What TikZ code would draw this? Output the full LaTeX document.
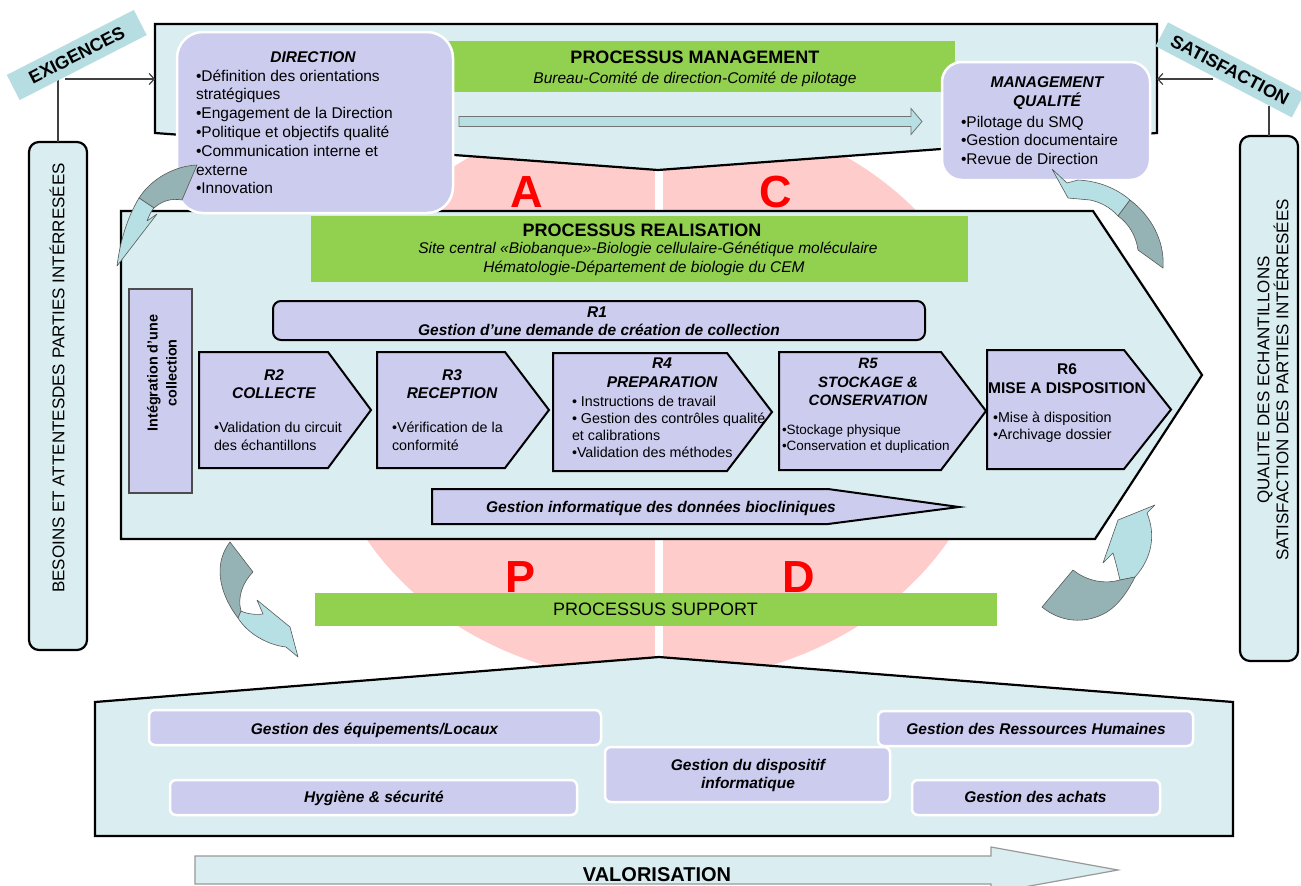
\documentclass[tikz,border=0pt]{standalone}
\usepackage{fontspec}
\setmainfont{Liberation Sans}
\usetikzlibrary{arrows.meta}
\definecolor{lightbox}{RGB}{218,237,240}
\definecolor{lav}{RGB}{204,204,238}
\definecolor{grn}{RGB}{146,208,80}
\definecolor{pinkc}{RGB}{255,204,204}
\definecolor{labc}{RGB}{182,221,226}
\definecolor{arlight}{RGB}{183,224,228}
\definecolor{ardark}{RGB}{149,179,180}
\definecolor{redl}{RGB}{255,0,0}
\newcommand\fz[2]{\fontsize{#1}{#2}\selectfont}
\begin{document}
\begin{tikzpicture}[x=1pt,y=-1pt,
  every node/.style={inner sep=0pt, outer sep=0pt},
  bigbox/.style={fill=lightbox, draw=black, line width=2.2pt, line join=miter},
  gbar/.style={fill=grn, draw=none},
  lavbox/.style={fill=lav, draw=white, line width=2.5pt},
  rstep/.style={fill=lav, draw=black, line width=2pt, line join=miter},
  sidebox/.style={fill=lightbox, draw=black, line width=2.2pt, rounded corners=10pt},
  lab/.style={fill=labc, draw=none, font=\fz{18}{20}\bfseries},
  conn/.style={draw=black!75, line width=1.2pt},
  blist/.style={anchor=north west, align=left},
  ttl/.style={align=center, font=\fz{15.5}{18}\bfseries\itshape},
  bi/.style={anchor=base, font=\fz{15.5}{18}\bfseries\itshape},
  letter/.style={anchor=base, text=redl, font=\fz{45}{50}\bfseries},
  carrow/.style={draw=black!65, line width=0.6pt, line join=round}
]
\useasboundingbox (0,0) rectangle (1301,886);
\fill[white] (0,0) rectangle (1301,886);
\clip (0,0) rectangle (1301,886);

% PDCA background
\fill[pinkc] (658,395) ellipse [x radius=337pt, y radius=287pt];
\draw[white, line width=8pt] (659,120) -- (659,690);

% management box
\draw[bigbox] (155,24) -- (1157,24) -- (1157,133) -- (658,170) -- (155,133) -- cycle;
\node[gbar, minimum width=509pt, minimum height=51pt] (pmbar) at (700.5,66.5) {};
\node[anchor=base, font=\fz{18}{20}\bfseries] (pmt) at (695,63.8) {PROCESSUS MANAGEMENT};
\node[anchor=base, font=\fz{15.5}{18}\itshape] (pms) at (695,83.1) {Bureau-Comité de direction-Comité de pilotage};
\draw[fill=arlight, draw=black!55, line width=0.8pt] (459,116.5) -- (911,116.5) -- (911,108.5) -- (922,121.5) -- (911,134.5) -- (911,126.5) -- (459,126.5) -- cycle;

% letters
\node[letter] (la) at (527,207) {A};
\node[letter] (lc) at (776,207) {C};
\node[letter] (lp) at (521,592) {P};
\node[letter] (ld) at (799,592) {D};

% realisation box
\draw[bigbox] (121,211) -- (1093,211) -- (1202,375) -- (1095,539) -- (121,539) -- cycle;
\node[gbar, minimum width=657pt, minimum height=66pt] (prbar) at (639.5,249) {};
\node[anchor=base, font=\fz{18}{20}\bfseries] (prt) at (642,236.3) {PROCESSUS REALISATION};
\node[anchor=base, font=\fz{15.5}{18}\itshape] (prs1) at (648,253.7) {Site central «Biobanque»-Biologie cellulaire-Génétique moléculaire};
\node[anchor=base, font=\fz{15.5}{18}\itshape] (prs2) at (644,272.1) {Hématologie-Département de biologie du CEM};

% direction box
\node[lavbox, rounded corners=26pt, minimum width=276pt, minimum height=181pt] (dir) at (315,122.5) {};
\node[bi] (dirt) at (313,62.4) {DIRECTION};
\node[blist, font=\fz{15.5}{18.8}] (dirl) at (196,67.9) {\strut•Définition des orientations\\stratégiques\\•Engagement de la Direction\\•Politique et objectifs qualité\\•Communication interne et\\externe\\•Innovation};

% management qualite box
\node[lavbox, rounded corners=20pt, minimum width=208pt, minimum height=118pt] (mq) at (1046,121) {};
\node[ttl, font=\fz{15.5}{19}\bfseries\itshape] (mqt) at (1047,93) {MANAGEMENT\\QUALITÉ};
\node[blist, font=\fz{15.5}{18.6}] (mql) at (961,114.1) {\strut•Pilotage du SMQ\\•Gestion documentaire\\•Revue de Direction};

% R1
\node[rstep, rounded corners=8pt, minimum width=652pt, minimum height=39pt] (r1) at (599,320.5) {};
\node[bi] (r1a) at (597,317.4) {R1};
\node[bi] (r1b) at (599,335.4) {Gestion d’une demande de création de collection};

% integration
\node[fill=lav, draw=black!70, line width=1.3pt, minimum width=63pt, minimum height=204pt] (integ) at (160.5,391) {};
\node[rotate=90, align=center, font=\fz{14.4}{19}\bfseries] (integt) at (162,373) {Intégration d’une\\collection};

% R2..R6
\draw[rstep] (199,352) -- (328,352) -- (371,410) -- (328,468) -- (199,468) -- cycle;
\node[ttl] (r2t) at (274,384) {R2\\COLLECTE};
\node[blist, font=\fz{14.3}{18}] (r2l) at (214,420.1) {\strut•Validation du circuit\\des échantillons};

\draw[rstep] (377,352) -- (505,352) -- (549,410) -- (505,468) -- (377,468) -- cycle;
\node[ttl] (r3t) at (452,384) {R3\\RECEPTION};
\node[blist, font=\fz{14.3}{18}] (r3l) at (392,420.1) {\strut•Vérification de la\\conformité};

\draw[rstep] (553,353) -- (727,353) -- (772,412) -- (727,471) -- (553,471) -- cycle;
\node[ttl, font=\fz{15.5}{19}\bfseries\itshape] (r4t) at (662,372.4) {R4\\PREPARATION};
\node[blist, font=\fz{14.3}{17}] (r4l) at (572,394.8) {\strut• Instructions de travail\\• Gestion des contrôles qualité\\et calibrations\\•Validation des méthodes};

\draw[rstep] (779,352) -- (941,352) -- (986,411) -- (941,470) -- (779,470) -- cycle;
\node[ttl, font=\fz{15}{18.5}\bfseries\itshape] (r5t) at (868,382.3) {R5\\STOCKAGE \&\\CONSERVATION};
\node[blist, font=\fz{13.5}{16}] (r5l) at (782,423.3) {\strut•Stockage physique\\•Conservation et duplication};

\draw[rstep] (987,350) -- (1124,350) -- (1171,409.5) -- (1124,469) -- (987,469) -- cycle;
\node[ttl, font=\fz{15.5}{19}\bfseries] (r6t) at (1067,378.4) {R6\\MISE A DISPOSITION};
\node[blist, font=\fz{14.3}{17}] (r6l) at (993,410.8) {\strut•Mise à disposition\\•Archivage dossier};

% gestion informatique
\draw[rstep] (432,489) -- (828,489) -- (959,507) -- (828,524) -- (432,524) -- cycle;
\node[bi] (gi) at (661,512.4) {Gestion informatique des données biocliniques};

% support
\node[gbar, minimum width=682pt, minimum height=33pt] (psbar) at (656,609.5) {};
\node[anchor=base, font=\fz{18}{20}] (pst) at (655.5,615.3) {PROCESSUS SUPPORT};
\draw[bigbox] (95,702) -- (659,657) -- (1233,702) -- (1233,836) -- (95,836) -- cycle;
\node[lavbox, rounded corners=6pt, minimum width=452pt, minimum height=35pt] (seq) at (375,727.5) {};
\node[lavbox, rounded corners=6pt, minimum width=407pt, minimum height=35pt] (shy) at (373.5,797.5) {};
\node[lavbox, rounded corners=6pt, minimum width=285pt, minimum height=55pt] (sdi) at (747.5,774.5) {};
\node[lavbox, rounded corners=6pt, minimum width=315pt, minimum height=35pt] (srh) at (1035.5,728.5) {};
\node[lavbox, rounded corners=6pt, minimum width=248pt, minimum height=35pt] (sac) at (1036,797.5) {};
\node[bi] (seqt) at (374.5,734.4) {Gestion des équipements/Locaux};
\node[bi] (shyt) at (374,802.4) {Hygiène \& sécurité};
\node[ttl] (sdit) at (748,775.5) {Gestion du dispositif\\informatique};
\node[bi] (srht) at (1036,734.4) {Gestion des Ressources Humaines};
\node[bi] (sact) at (1035.5,802.4) {Gestion des achats};

% valorisation
\draw[fill=lightbox, draw=black!40, line width=1.2pt] (195,856) -- (991,856) -- (991,847) -- (1118,870) -- (991,893) -- (991,884) -- (195,884) -- cycle;
\node[anchor=base, font=\fz{20}{22}\bfseries] (val) at (657,881.5) {VALORISATION};

% side boxes
\node[sidebox, minimum width=58pt, minimum height=508pt] (bes) at (58,396) {};
\node[rotate=90, font=\fz{17}{19}] (best) at (57,378) {BESOINS ET ATTENTESDES PARTIES INTÉRRESÉES};
\node[sidebox, minimum width=58pt, minimum height=525pt] (qual) at (1269,398.5) {};
\node[rotate=90, align=center, font=\fz{17}{17}] (qualt) at (1273,380) {QUALITE DES ECHANTILLONS\\SATISFACTION DES PARTIES INTÉRRESÉES};

% connectors
\coordinate (exh) at (65,79);
\coordinate (exv) at (58,80);
\coordinate (mL) at (155,79);
\coordinate (sah) at (1213,79);
\coordinate (sav) at (1269,106);
\coordinate (mR) at (1157,79);
\draw[conn, -{Straight Barb[length=5pt,width=11pt]}] (exh) -- (mL);
\draw[conn] (exv) -- (bes.north);
\draw[conn, -{Straight Barb[length=5pt,width=11pt]}] (sah) -- (mR);
\draw[conn] (sav) -- (qual.north);

% labels
\node[lab, rotate=27.1, minimum width=142.7pt, minimum height=28.2pt] (exig) at (76.75,55) {EXIGENCES};
\node[lab, rotate=-27.6, minimum width=153.8pt, minimum height=26.9pt] (satis) at (1229.9,69.9) {SATISFACTION};

% curved arrows
% 1 top-left
\draw[carrow, fill=ardark] (197,165) .. controls (175,166) and (152,178) .. (139,198) -- (154,208) .. controls (162,201) and (171,198) .. (182,200) -- cycle;
\draw[carrow, fill=arlight] (139,198) .. controls (127,218) and (120,242) .. (117,266) -- (157,214) -- (147,221) .. controls (149,216) and (151,211) .. (154,208) -- cycle;
% 2 top-right
\draw[carrow, fill=arlight] (1052,169) -- (1067,183) -- (1078,180) .. controls (1098,181) and (1116,188) .. (1130,200) -- (1118,216) .. controls (1110,207) and (1100,202) .. (1090,200) -- (1068,198) -- cycle;
\draw[carrow, fill=ardark] (1130,200) .. controls (1150,215) and (1165,240) .. (1163,268) -- (1138,250) .. controls (1136,235) and (1128,223) .. (1118,216) -- cycle;
% 3 bottom-left
\draw[carrow, fill=ardark] (230,542) -- (253,572) .. controls (243,582) and (237,597) .. (241,611) -- (238,618) .. controls (224,600) and (210,568) .. (230,542) -- cycle;
\draw[carrow, fill=arlight] (241,611) .. controls (247,614) and (256,615) .. (263,614) -- (257,600) -- (290,627) -- (298,657) -- (286,647) .. controls (268,645) and (248,634) .. (238,618) -- cycle;
% 4 bottom-right
\draw[carrow, fill=arlight] (1155,505) -- (1118,520) -- (1103,563) -- (1113,553) .. controls (1116,563) and (1118,572) .. (1120,580) -- (1135,577) .. controls (1152,558) and (1156,535) .. (1147,513) -- cycle;
\draw[carrow, fill=ardark] (1073,570) .. controls (1088,582) and (1106,584) .. (1120,580) -- (1135,577) .. controls (1127,593) and (1118,605) .. (1107,612) .. controls (1085,625) and (1060,622) .. (1042,607) -- cycle;
\end{tikzpicture}
\end{document}
